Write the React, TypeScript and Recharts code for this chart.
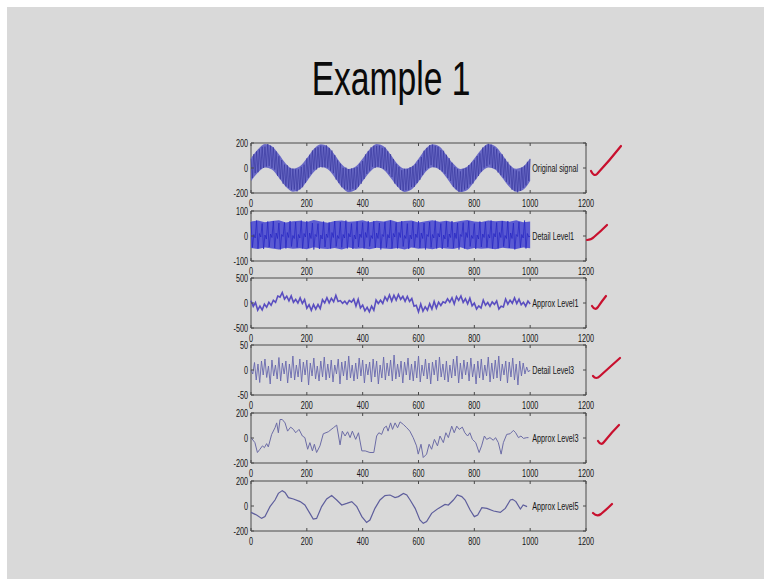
import React from 'react'
import { ComposedChart, Line, Area, XAxis, YAxis, ReferenceArea, ReferenceDot } from 'recharts'

const xTicks = [0, 200, 400, 600, 800, 1000, 1200]

const panelNames = ['Original signal', 'Detail Level1', 'Approx Level1', 'Detail Level3', 'Approx Level3', 'Approx Level5']
const panelTicks = [
  [-200, 0, 200],
  [-100, 0, 100],
  [-500, 0, 500],
  [-50, 0, 50],
  [-200, 0, 200],
  [-200, 0, 200]
]
const panelTops = [143, 211, 278, 345, 413, 481]

// sampled every 5 points (0..1000)
const originalSignal = [
  74, -80, 111, -41, 133, -34, 149, -9, 169, 0, 171, 12, 192, 17, 179, 1, 166, -13, 133, -62,
  94, -90, 64, -126, 27, -147, 22, -159, 1, -175, -4, -172, -11, -188, -11, -171, 9, -154, 27, -119,
  77, -78, 106, -49, 140, -13, 159, -12, 167, 5, 179, 5, 171, 7, 182, 3, 161, -21, 140, -41,
  104, -93, 62, -121, 35, -154, 1, -169, 4, -173, -9, -180, -4, -167, -1, -174, 7, -149, 35, -126,
  56, -88, 109, -47, 135, -21, 166, 9, 177, 2, 177, 10, 179, 0, 161, -7, 164, -19, 135, -49,
  111, -72, 72, -124, 33, -149, 9, -176, -17, -183, -6, -178, -9, -175, 6, -153, 17, -152, 33, -121,
  64, -95, 88, -57, 138, -19, 161, 1, 184, 23, 187, 7, 177, 5, 169, -14, 143, -29, 138, -47,
  106, -80, 79, -103, 43, -152, 7, -171, -9, -190, -27, -188, -6, -173, 1, -161, 24, -131, 43, -124,
  62, -90, 96, -64, 117, -29, 164, 3, 179, 15, 194, 28, 187, 2, 167, -9, 151, -36, 117, -57,
  109, -78, 74, -111, 50, -131, 17, -174, -11, -185, -19, -195, -27, -183, 4, -159, 19, -139, 50, -103,
  72
]
// outer edges of the dense band, every 25 points
const originalUpper = [
  80, 150, 192, 175, 110, 35, -5, 14, 78, 152, 190, 172, 106, 30, -8, 12, 76, 150, 193, 174,
  108, 32, -6, 10, 75, 153, 191, 173, 105, 34, -7, 13, 77, 149, 192, 175, 109, 31, -5, 12, 78
]
const originalLower = [
  -105, -35, 5, -12, -78, -150, -190, -172, -108, -32, 8, -10, -75, -152, -193, -174, -106, -34, 6, -13,
  -77, -149, -191, -171, -109, -31, 7, -11, -76, -153, -192, -175, -107, -33, 5, -12, -78, -150, -190, -173, -104
]

const detailLevel1 = [
  56, -46, 6, -8, 62, -50, 10, -4, 50, -52, 4, -12, 58, -44, 8, -6,
  60, -48, 12, -10, 52, -54, 6, -2, 54, -50, 14, -6, 60, -42, 2, -10,
  56, -46, 6, -8, 62, -50, 10, -4, 60, -48, 12, -10, 52, -54, 6, -2,
  50, -52, 4, -12, 58, -44, 8, -6, 54, -50, 14, -6, 60, -42, 2, -10,
  56, -46, 6, -8, 62, -50, 10, -4, 50, -52, 4, -12, 58, -44, 8, -6,
  54, -50, 14, -6, 60, -42, 2, -10, 60, -48, 12, -10, 52, -54, 6, -2,
  56, -46, 6, -8, 62, -50, 10, -4, 54, -50, 14, -6, 60, -42, 2, -10,
  50, -52, 4, -12, 58, -44, 8, -6, 60, -48, 12, -10, 52, -54, 6, -2,
  56, -46, 6, -8, 62, -50, 10, -4, 50, -52, 4, -12, 58, -44, 8, -6,
  60, -48, 12, -10, 52, -54, 6, -2, 54, -50, 14, -6, 60, -42, 2, -10,
  50, -52, 4, -12, 58, -44, 8, -6, 56, -46, 6, -8, 62, -50, 10, -4,
  54, -50, 14, -6, 60, -42, 2, -10, 60, -48, 12, -10, 52, -54, 6, -2,
  56, -46, 6, -8, 62, -50, 10, -4,
  0
]
const detailUpper = [
  58, 62, 55, 60, 63, 54, 59, 61, 56, 64, 58, 53, 60, 62, 57, 59, 63, 55, 61, 58,
  64, 56, 60, 62, 54, 59, 63, 57, 61, 55, 60, 64, 58, 56, 62, 59, 61, 57, 63, 55, 58
]
const detailLower = [
  -48, -52, -46, -50, -54, -47, -51, -49, -53, -45, -50, -52, -48, -54, -46, -51, -49, -53, -47, -50,
  -52, -48, -54, -46, -51, -49, -53, -47, -50, -52, -45, -54, -48, -51, -49, -53, -47, -50, -52, -46, -49
]

// sampled every 8 points
const approxLevel1 = [
  45, -68, 10, -142, -63, -140, -23, -85, 13, -45, 55, 12, 138, 118, 210, 78, 135, 42, 140, 13,
  72, 0, 102, -10, 68, -105, -35, -148, -32, -122, -30, -112, 65, 2, 105, 3, 92, 25, 152, 30,
  48, -5, 35, -23, 53, 18, 80, -62, 75, -98, -40, -157, -88, -175, -63, -145, 58, -10, 55, -8,
  123, 48, 160, 38, 155, 57, 170, 73, 132, 35, 132, 30, 88, -65, -45, -178, -22, -162, -75, -142,
  -15, -123, 30, -102, 17, -50, 22, 0, 83, 15, 105, -18, 128, 53, 140, 13, 85, -18, 95, -57,
  -3, -120, -58, -100, 58, -45, 10, -68, 23, -27, 40, -122, -65, -78, 80, -22, 57, -5, 102, -10,
  78, -35, 15, -63, 38, -22
]

const detailLevel3 = [
  0, -8, 15, -20, 12, -25, 18, -10, 22, -15,
  8, -28, 20, -12, 10, -18, 25, -22, 14, -8,
  18, -26, 12, -16, 28, -20, 10, -14, 22, -24,
  16, -10, 20, -30, 14, -12, 24, -18, 8, -22,
  18, -14, 26, -20, 12, -16, 20, -24, 10, -8,
  22, -28, 16, -12, 18, -20, 28, -16, 10, -22,
  14, -18, 24, -12, 20, -26, 12, -10, 16, -24,
  22, -14, 18, -28, 10, -16, 26, -20, 14, -12,
  20, -22, 30, -18, 12, -14, 18, -26, 16, -10,
  24, -20, 12, -22, 18, -16, 28, -24, 10, -12,
  22, -18, 14, -28, 16, -10, 20, -22, 26, -14,
  12, -20, 18, -24, 10, -16, 22, -12, 28, -26,
  14, -18, 20, -10, 16, -22, 24, -14, 12, -28,
  18, -16, 22, -20, 10, -12, 26, -24, 14, -18,
  20, -16, 28, -22, 12, -10, 18, -26, 16, -14,
  24, -20, 12, -30, 18, -12, 14, -8, 6, -4,
  0
]

const approxLevel3X = [
  0, 14, 23, 32, 41, 48, 56, 62, 74, 86, 92, 98, 104, 112, 122, 131, 142, 152, 160, 172,
  184, 193, 203, 211, 220, 227, 235, 247, 259, 277, 295, 307, 319, 327, 337, 346, 355, 363, 375, 385,
  397, 409, 426, 440, 450, 458, 468, 477, 485, 491, 500, 507, 516, 525, 534, 546, 558, 569, 581, 593,
  599, 609, 617, 629, 638, 647, 657, 668, 677, 689, 698, 707, 719, 728, 737, 746, 757, 766, 776, 784,
  793, 805, 817, 826, 836, 844, 856, 868, 876, 886, 896, 904, 916, 928, 940, 948, 958, 967, 976, 988,
  994
]
const approxLevel3Y = [
  3, -37, -116, -90, -63, -77, -45, -71, 29, 82, 121, 42, 148, 148, 121, 55, 87, 69, 42, 69,
  16, 3, -90, -37, -103, -50, -116, -63, 34, 50, 82, 103, -55, 55, 16, 50, 3, 55, -11, 42,
  -103, -103, -116, -116, 16, 42, 29, 82, 95, 55, 121, 69, 121, 82, 129, 108, 82, 55, 3, -63,
  -129, -50, -156, -129, -50, -90, -11, -63, 16, -37, 42, 3, 95, 42, 95, 69, 87, 42, 16, 42,
  -11, -37, -116, -63, 16, -11, 3, -18, 3, -37, -129, -37, 29, 34, 61, 42, 3, 16, -3, 3,
  3
]

const approxLevel5X = [
  0, 20, 38, 50, 68, 86, 98, 112, 122, 134, 152, 176, 193, 211, 223, 235, 253, 271, 289, 307,
  325, 343, 361, 379, 397, 414, 426, 444, 462, 480, 498, 516, 528, 546, 558, 570, 588, 605, 617, 629,
  647, 671, 695, 707, 725, 739, 755, 767, 785, 800, 812, 827, 845, 869, 893, 911, 929, 937, 949, 965,
  975, 989
]
const approxLevel5Y = [
  -51, -72, -99, -85, -5, 48, 101, 123, 109, 67, 56, 35, 8, -59, -104, -99, -5, 56, 83, 48,
  8, 21, 35, -5, -85, -131, -112, -19, 48, 83, 88, 67, 75, 101, 88, 48, -19, -112, -139, -125,
  -59, -19, 13, 8, 48, 88, 75, 48, -32, -85, -72, -13, -19, -40, -51, -19, 48, 53, 35, -24,
  8, -5
]

const evenRows = (values: number[]) =>
  values.map((v, i) => ({ x: (i * 1000) / (values.length - 1), y: v }))
const pairRows = (xs: number[], ys: number[]) => xs.map((x, i) => ({ x, y: ys[i] }))
const bandRows = (lo: number[], hi: number[]) =>
  hi.map((h, i) => ({ x: (i * 1000) / (hi.length - 1), band: [lo[i], h] }))

const panelRows = [
  evenRows(originalSignal),
  evenRows(detailLevel1),
  evenRows(approxLevel1),
  evenRows(detailLevel3),
  pairRows(approxLevel3X, approxLevel3Y),
  pairRows(approxLevel5X, approxLevel5Y)
]
const panelBands: any[] = [
  bandRows(originalLower, originalUpper),
  bandRows(detailLower, detailUpper),
  null,
  null,
  null,
  null
]
const bandFills = ['#6a6ac6', '#5a5ad2']
const bandCurves: any[] = ['monotone', 'linear']
const panelColors = ['#34349a', '#2424c2', '#5a4ec0', '#6868ae', '#6c6ca6', '#5e5e9c']
const panelWidths = [0.6, 0.7, 1.6, 0.9, 1, 1.2]

const PLOT_H = 50
const PLOT_W = 335
const TICK = 3
const AXIS = '#4a4a4a'
const FONT = '"Liberation Sans", Arial, sans-serif'
const SQUEEZE = 0.66

function XTick({ x, y, payload }: any) {
  return (
    <g>
      <line x1={x} y1={y} x2={x} y2={y - TICK} stroke={AXIS} />
      <line x1={x} y1={y - PLOT_H} x2={x} y2={y - PLOT_H + TICK} stroke={AXIS} />
      <text
        transform={`translate(${x},${y + 14}) scale(${SQUEEZE},1)`}
        textAnchor="middle"
        fontSize={11}
        fontFamily={FONT}
        fill="#151515"
      >
        {payload.value}
      </text>
    </g>
  )
}

function YTick({ x, y, payload }: any) {
  return (
    <g>
      <line x1={x} y1={y} x2={x + TICK} y2={y} stroke={AXIS} />
      <line x1={x + PLOT_W} y1={y} x2={x + PLOT_W - TICK} y2={y} stroke={AXIS} />
      <text
        transform={`translate(${x - 3},${y + 4}) scale(${SQUEEZE},1)`}
        textAnchor="end"
        fontSize={11}
        fontFamily={FONT}
        fill="#151515"
      >
        {payload.value}
      </text>
    </g>
  )
}

function PanelLabel({ viewBox, text }: any) {
  const vb = viewBox || { x: 0, y: 0, width: 0, height: 0 }
  const cx = vb.x + (vb.width || 0) / 2
  const cy = vb.y + (vb.height || 0) / 2
  return (
    <text
      transform={`translate(${cx + 2},${cy + 4}) scale(${SQUEEZE},1)`}
      fontSize={11}
      fontFamily={FONT}
      fill="#151515"
    >
      {text}
    </text>
  )
}

function Panel({ index }: { index: number }) {
  const ticks = panelTicks[index]
  const lo = ticks[0]
  const hi = ticks[ticks.length - 1]
  const band = panelBands[index]
  return (
    <div style={{ position: 'absolute', left: 0, top: panelTops[index] - 10 }}>
      <ComposedChart width={764} height={80} margin={{ top: 10, right: 178, bottom: 0, left: 221 }}>
        <XAxis
          dataKey="x"
          type="number"
          domain={[0, 1200]}
          ticks={xTicks}
          interval={0}
          height={20}
          axisLine={false}
          tickLine={false}
          tickSize={0}
          tickMargin={0}
          tick={<XTick />}
        />
        <YAxis
          type="number"
          domain={[lo, hi]}
          ticks={ticks}
          interval={0}
          width={30}
          axisLine={false}
          tickLine={false}
          tickSize={0}
          tickMargin={0}
          tick={<YTick />}
        />
        <ReferenceArea x1={0} x2={1200} y1={lo} y2={hi} fill="none" stroke={AXIS} strokeWidth={1} />
        {band && (
          <Area
            data={band}
            dataKey="band"
            type={bandCurves[index]}
            stroke="none"
            fill={bandFills[index]}
            fillOpacity={1}
            isAnimationActive={false}
          />
        )}
        <Line
          data={panelRows[index]}
          dataKey="y"
          type="linear"
          stroke={panelColors[index]}
          strokeWidth={panelWidths[index]}
          dot={false}
          isAnimationActive={false}
        />
        <ReferenceDot
          x={1000}
          y={0}
          r={0}
          fill="none"
          stroke="none"
          label={<PanelLabel text={panelNames[index]} />}
        />
      </ComposedChart>
    </div>
  )
}

// hand-drawn red ticks beside each panel
const checkMarks = [
  'M591,171 Q594,177 597,174 Q610,160 621,146',
  'M587,240 Q591,240 594,237 Q601,231 607,225',
  'M592,306 Q595,311 598,307 Q602,301 606,296',
  'M593,376 Q596,380 600,376 Q611,366 620,358',
  'M598,441 Q601,446 604,442 Q612,432 619,425',
  'M593,513 Q597,517 601,514 Q607,509 612,504'
]

export default function App() {
  return (
    <div style={{ position: 'absolute', left: 0, top: 0, width: 764, height: 579, background: '#fff', overflow: 'hidden' }}>
      <div style={{ position: 'absolute', left: 7, top: 7, right: 0, bottom: 0, background: '#d9d9d9' }} />
      <div
        style={{
          position: 'absolute',
          left: 391,
          top: 55,
          fontFamily: FONT,
          fontSize: 48,
          lineHeight: '48px',
          color: '#0a0a0a',
          whiteSpace: 'nowrap',
          transform: 'translateX(-50%) scaleX(0.7)'
        }}
      >
        Example 1
      </div>
      {panelNames.map((_, i) => (
        <Panel key={i} index={i} />
      ))}
      <svg width={764} height={579} style={{ position: 'absolute', left: 0, top: 0, pointerEvents: 'none' }}>
        {checkMarks.map((d, i) => (
          <path key={i} d={d} fill="none" stroke="#c8102e" strokeWidth={2.2} strokeLinecap="round" strokeLinejoin="round" />
        ))}
      </svg>
    </div>
  )
}
